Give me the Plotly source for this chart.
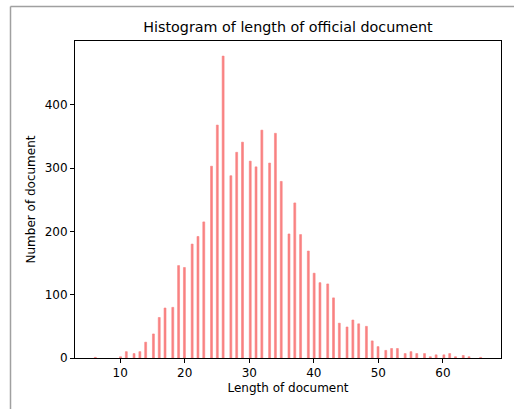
import numpy as np
import plotly.graph_objects as go

# Document lengths (integer values) and number of documents with that length
lengths = [6, 10, 11, 12, 13, 14, 15, 16, 17, 18, 19, 20, 21, 22, 23, 24, 25, 26, 27, 28,
           29, 30, 31, 32, 33, 34, 35, 36, 37, 38, 39, 40, 41, 42, 43, 44, 45, 46, 47, 48,
           49, 50, 51, 52, 53, 54, 55, 56, 57, 58, 59, 60, 61, 62, 63, 64, 66]
counts = [1, 2, 10, 7, 10, 25, 38, 64, 79, 80, 146, 143, 180, 192, 215, 303, 368, 477, 288, 325,
          341, 311, 302, 360, 308, 355, 279, 196, 245, 195, 169, 134, 119, 117, 95, 55, 49, 60, 54, 50,
          27, 18, 12, 15, 15, 7, 10, 7, 7, 2, 5, 5, 7, 2, 4, 2, 1]
x_ticks = [10, 20, 30, 40, 50, 60]
y_ticks = [0, 100, 200, 300, 400]

# histogram binning like matplotlib's hist(bins=200) over the data range
n_bins = 200
lo, hi = min(lengths), max(lengths)
bw = (hi - lo) / n_bins
v = np.array(lengths, dtype=float)
idx = np.minimum(np.floor(np.round((v - lo) / bw, 9)), n_bins - 1)
left_edges = lo + idx * bw

span = hi - lo
xr = [lo - 0.05 * span, hi + 0.05 * span]
yr = [0, max(counts) * 1.05]

bar_color = "#f98282"

fig = go.Figure()
fig.add_trace(go.Bar(
    x=left_edges, y=counts, width=bw, offset=0,
    marker=dict(color=bar_color, line=dict(width=0.6, color=bar_color)),
    hoverinfo="skip",
))

font = "DejaVu Sans, sans-serif"
fig.update_layout(
    template="none",
    width=514, height=409,
    margin=dict(l=75, r=13, t=41, b=51, autoexpand=False),
    paper_bgcolor="white", plot_bgcolor="white",
    font=dict(family=font, size=12, color="black"),
    showlegend=False,
    title=dict(text="Histogram of length of official document",
               x=0.5, xref="paper", xanchor="center",
               y=(409 - 27) / 409, yanchor="middle",
               font=dict(size=14.3, color="black", family=font)),
    bargap=0,
    xaxis=dict(range=xr, tickmode="array", tickvals=x_ticks, automargin=False,
               showline=True, linecolor="black", linewidth=1, mirror=True,
               ticks="outside", ticklen=4, tickcolor="black", tickwidth=1,
               showgrid=False, zeroline=False, tickfont=dict(size=12),
               title=dict(text="Length of document", standoff=4,
                          font=dict(size=12, family=font))),
    yaxis=dict(range=yr, tickmode="array", tickvals=y_ticks, automargin=False,
               showline=True, linecolor="black", linewidth=1, mirror=True,
               ticks="outside", ticklen=4, tickcolor="black", tickwidth=1,
               showgrid=False, zeroline=False, tickfont=dict(size=12),
               title=dict(text="Number of document", standoff=6,
                          font=dict(size=12, family=font))),
    shapes=[
        dict(type="line", xref="paper", yref="paper",
             x0=(10.5 - 75) / 426, x1=(10.5 - 75) / 426,
             y0=(358 - 6.5) / 317, y1=(358 - 420) / 317,
             line=dict(color="#a0a0a0", width=1.5)),
        dict(type="line", xref="paper", yref="paper",
             x0=(10.5 - 75) / 426, x1=(530 - 75) / 426,
             y0=(358 - 6.5) / 317, y1=(358 - 6.5) / 317,
             line=dict(color="#a0a0a0", width=1.5)),
    ],
)

fig.write_html("out.html",
               config={"displayModeBar": False, "staticPlot": True},
               post_script="document.body.style.margin='0';document.body.style.overflow='hidden';")
